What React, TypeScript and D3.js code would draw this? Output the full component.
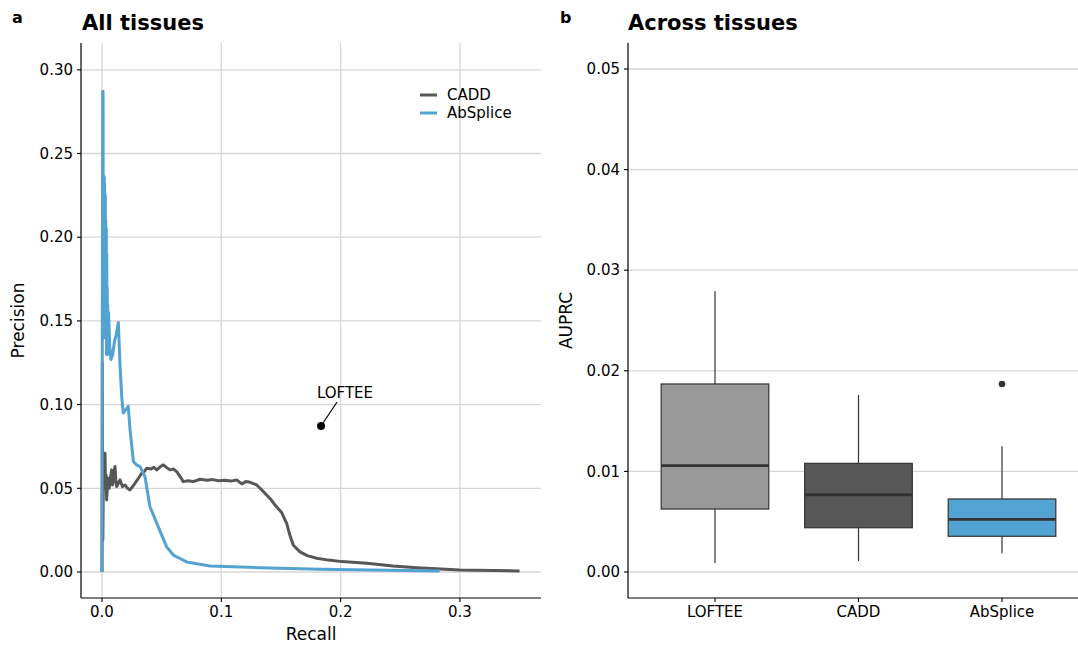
import * as d3 from "d3";
import React from "react";

// precision-recall curves (panel a)
const caddRecall = [0, 0.0002, 0.0003, 0.0005, 0.0007, 0.001, 0.0013, 0.0018, 0.0025, 0.003, 0.0035, 0.0039, 0.0046, 0.0053, 0.006, 0.0067, 0.0074, 0.0081, 0.0088, 0.0095, 0.0102, 0.0109, 0.0116, 0.0123, 0.0137, 0.0151, 0.0172, 0.0193, 0.0214, 0.0235, 0.0256, 0.0277, 0.0305, 0.0333, 0.0354, 0.0375, 0.041, 0.0435, 0.0459, 0.049, 0.0514, 0.054, 0.057, 0.06, 0.0626, 0.0655, 0.0681, 0.072, 0.0765, 0.0821, 0.088, 0.093, 0.0975, 0.103, 0.108, 0.1129, 0.1171, 0.1205, 0.1241, 0.1297, 0.134, 0.138, 0.142, 0.145, 0.1506, 0.1548, 0.1575, 0.1604, 0.166, 0.172, 0.18, 0.19, 0.201, 0.222, 0.244, 0.264, 0.3, 0.35];
const caddPrecision = [0, 0.06, 0.125, 0.03, 0.019, 0.045, 0.055, 0.066, 0.071, 0.05, 0.058, 0.043, 0.052, 0.056, 0.05, 0.054, 0.058, 0.061, 0.052, 0.054, 0.06, 0.063, 0.055, 0.051, 0.053, 0.055, 0.051, 0.052, 0.05, 0.049, 0.051, 0.053, 0.056, 0.059, 0.06, 0.062, 0.0615, 0.0625, 0.061, 0.063, 0.064, 0.0625, 0.061, 0.0615, 0.06, 0.057, 0.054, 0.0545, 0.054, 0.0554, 0.0548, 0.0552, 0.0545, 0.0548, 0.0543, 0.055, 0.0526, 0.054, 0.0536, 0.052, 0.049, 0.046, 0.043, 0.04, 0.0355, 0.029, 0.022, 0.016, 0.012, 0.0098, 0.0082, 0.0071, 0.0062, 0.0052, 0.0036, 0.0026, 0.0012, 0.0006];

const absRecall = [0, 0.0002, 0.0004, 0.0006, 0.0008, 0.0009, 0.001, 0.0011, 0.0013, 0.0014, 0.0016, 0.0017, 0.0019, 0.002, 0.0022, 0.0024, 0.0026, 0.0028, 0.003, 0.0032, 0.0034, 0.0036, 0.0038, 0.004, 0.0042, 0.0044, 0.0046, 0.0048, 0.0052, 0.0055, 0.006, 0.0065, 0.0075, 0.009, 0.0105, 0.012, 0.0137, 0.015, 0.0165, 0.0178, 0.02, 0.022, 0.0235, 0.0263, 0.029, 0.0319, 0.036, 0.0402, 0.0472, 0.0542, 0.06, 0.071, 0.0905, 0.132, 0.183, 0.283];
const absPrecision = [0, 0.12, 0.21, 0.287, 0.2, 0.287, 0.22, 0.16, 0.237, 0.15, 0.232, 0.18, 0.236, 0.14, 0.232, 0.15, 0.21, 0.225, 0.14, 0.21, 0.16, 0.205, 0.13, 0.19, 0.142, 0.17, 0.13, 0.16, 0.138, 0.155, 0.145, 0.135, 0.127, 0.13, 0.138, 0.142, 0.149, 0.125, 0.105, 0.095, 0.097, 0.099, 0.085, 0.066, 0.064, 0.063, 0.057, 0.039, 0.027, 0.015, 0.01, 0.006, 0.0036, 0.0026, 0.0016, 0.0006];

const lofteeRecall = 0.1836;
const lofteePrecision = 0.0872;

// AUPRC across tissues (panel b)
const methods = ["LOFTEE", "CADD", "AbSplice"];
const boxLower = [0.00089, 0.00109, 0.00186];
const boxQ1 = [0.00626, 0.0044, 0.00355];
const boxMedian = [0.01057, 0.00768, 0.00524];
const boxQ3 = [0.01869, 0.0108, 0.00726];
const boxUpper = [0.02793, 0.01759, 0.0125];
const boxOutliers = [[], [], [0.01869]];

const xTicksA = [0, 0.1, 0.2, 0.3];
const yTicksA = [0, 0.05, 0.1, 0.15, 0.2, 0.25, 0.3];
const yTicksB = [0, 0.01, 0.02, 0.03, 0.04, 0.05];

const GREY = "#999999";
const DARK = "#575757";
const BLUE = "#52a2d2";
const boxFill = [GREY, DARK, BLUE];
const GRID = "#d6d6d6";
const FONT = "DejaVu Sans, sans-serif";

export default function App() {
  const W = 1078;
  const H = 646;

  // panel a geometry
  const aLeft = 81, aRight = 541, top = 43, bottom = 598;
  const xA = d3.scaleLinear().domain([0, 0.3]).range([102, 102 + 0.3 * 1193]);
  const yA = d3.scaleLinear().domain([0, 0.3]).range([572, 572 - 0.3 * 1674]);

  // panel b geometry
  const bLeft = 628, bRight = 1078;
  const xB = d3.scaleLinear().domain([1, 3]).range([715, 1002]);
  const yB = d3.scaleLinear().domain([0, 0.05]).range([572, 69]);
  const halfW = 0.375 * (xB(2) - xB(1));

  const line = d3
    .line<[number, number]>()
    .x((d) => xA(d[0]))
    .y((d) => yA(d[1]));
  const caddPts = caddRecall.map((r, i) => [r, caddPrecision[i]] as [number, number]);
  const absPts = absRecall.map((r, i) => [r, absPrecision[i]] as [number, number]);

  const fmtA = (v: number) => (v === 0 ? "0.0" : d3.format(".1f")(v));

  return (
    <svg width={W} height={H} style={{ position: "absolute", left: 0, top: 0 }} fontFamily={FONT}>
      <rect width={W} height={H} fill="white" />
      <defs>
        <clipPath id="clipA">
          <rect x={aLeft} y={top} width={aRight - aLeft} height={bottom - top} />
        </clipPath>
      </defs>

      {/* ---- panel a ---- */}
      <text x={12} y={23} fontSize={16} fontWeight="bold">a</text>
      <text x={82} y={30} fontSize={21} fontWeight="bold">All tissues</text>
      {yTicksA.map((t) => (
        <line key={"gy" + t} x1={aLeft} x2={aRight} y1={yA(t)} y2={yA(t)} stroke={GRID} strokeWidth={1.3} />
      ))}
      {xTicksA.map((t) => (
        <line key={"gx" + t} x1={xA(t)} x2={xA(t)} y1={top} y2={bottom} stroke={GRID} strokeWidth={1.3} />
      ))}
      <g clipPath="url(#clipA)">
        <path d={line(caddPts) || ""} fill="none" stroke={DARK} strokeWidth={3} strokeLinejoin="round" />
        <path d={line(absPts) || ""} fill="none" stroke={BLUE} strokeWidth={3} strokeLinejoin="round" />
      </g>
      <circle cx={xA(lofteeRecall)} cy={yA(lofteePrecision)} r={4} fill="black" />
      <line x1={xA(lofteeRecall) + 2} y1={yA(lofteePrecision) - 3} x2={xA(lofteeRecall) + 16} y2={yA(lofteePrecision) - 24} stroke="black" strokeWidth={1.2} />
      <text x={xA(lofteeRecall) + 24} y={yA(lofteePrecision) - 28} fontSize={15} textAnchor="middle">LOFTEE</text>

      {/* legend */}
      <line x1={420} x2={437} y1={95} y2={95} stroke={DARK} strokeWidth={3} />
      <text x={447} y={100} fontSize={15}>CADD</text>
      <line x1={420} x2={437} y1={113} y2={113} stroke={BLUE} strokeWidth={3} />
      <text x={447} y={118} fontSize={15}>AbSplice</text>

      {/* axes a */}
      <line x1={aLeft} x2={aLeft} y1={top} y2={bottom} stroke="black" strokeWidth={1.2} />
      <line x1={aLeft} x2={aRight} y1={bottom} y2={bottom} stroke="black" strokeWidth={1.2} />
      {yTicksA.map((t) => (
        <g key={"ty" + t}>
          <line x1={aLeft - 4} x2={aLeft} y1={yA(t)} y2={yA(t)} stroke="black" strokeWidth={1.1} />
          <text x={aLeft - 8} y={yA(t)} dy="0.35em" fontSize={15} textAnchor="end">{d3.format(".2f")(t)}</text>
        </g>
      ))}
      {xTicksA.map((t) => (
        <g key={"tx" + t}>
          <line x1={xA(t)} x2={xA(t)} y1={bottom} y2={bottom + 4} stroke="black" strokeWidth={1.1} />
          <text x={xA(t)} y={bottom + 19} fontSize={15} textAnchor="middle">{fmtA(t)}</text>
        </g>
      ))}
      <text x={(aLeft + aRight) / 2} y={640} fontSize={17} textAnchor="middle">Recall</text>
      <text transform={`translate(24,${(top + bottom) / 2}) rotate(-90)`} fontSize={17} textAnchor="middle">Precision</text>

      {/* ---- panel b ---- */}
      <text x={560} y={23} fontSize={16} fontWeight="bold">b</text>
      <text x={628} y={30} fontSize={21} fontWeight="bold">Across tissues</text>
      {yTicksB.map((t) => (
        <line key={"gby" + t} x1={bLeft} x2={bRight} y1={yB(t)} y2={yB(t)} stroke={GRID} strokeWidth={1.3} />
      ))}
      {methods.map((m, i) => {
        const cx = xB(i + 1);
        return (
          <g key={m}>
            <line x1={cx} x2={cx} y1={yB(boxUpper[i])} y2={yB(boxQ3[i])} stroke="#333" strokeWidth={1.2} />
            <line x1={cx} x2={cx} y1={yB(boxQ1[i])} y2={yB(boxLower[i])} stroke="#333" strokeWidth={1.2} />
            <rect x={cx - halfW} y={yB(boxQ3[i])} width={2 * halfW} height={yB(boxQ1[i]) - yB(boxQ3[i])} fill={boxFill[i]} stroke="#333" strokeWidth={1.2} />
            <line x1={cx - halfW} x2={cx + halfW} y1={yB(boxMedian[i])} y2={yB(boxMedian[i])} stroke="#333" strokeWidth={2.8} />
            {boxOutliers[i].map((o, j) => (
              <circle key={j} cx={cx} cy={yB(o)} r={3.3} fill="#333" />
            ))}
          </g>
        );
      })}
      <line x1={bLeft} x2={bLeft} y1={top} y2={bottom} stroke="black" strokeWidth={1.2} />
      <line x1={bLeft} x2={bRight} y1={bottom} y2={bottom} stroke="black" strokeWidth={1.2} />
      {yTicksB.map((t) => (
        <g key={"tby" + t}>
          <line x1={bLeft - 4} x2={bLeft} y1={yB(t)} y2={yB(t)} stroke="black" strokeWidth={1.1} />
          <text x={bLeft - 8} y={yB(t)} dy="0.35em" fontSize={15} textAnchor="end">{d3.format(".2f")(t)}</text>
        </g>
      ))}
      {methods.map((m, i) => (
        <g key={"tbx" + m}>
          <line x1={xB(i + 1)} x2={xB(i + 1)} y1={bottom} y2={bottom + 4} stroke="black" strokeWidth={1.1} />
          <text x={xB(i + 1)} y={bottom + 19} fontSize={15} textAnchor="middle">{m}</text>
        </g>
      ))}
      <text transform={`translate(572,${(top + bottom) / 2}) rotate(-90)`} fontSize={17} textAnchor="middle">AUPRC</text>
    </svg>
  );
}
